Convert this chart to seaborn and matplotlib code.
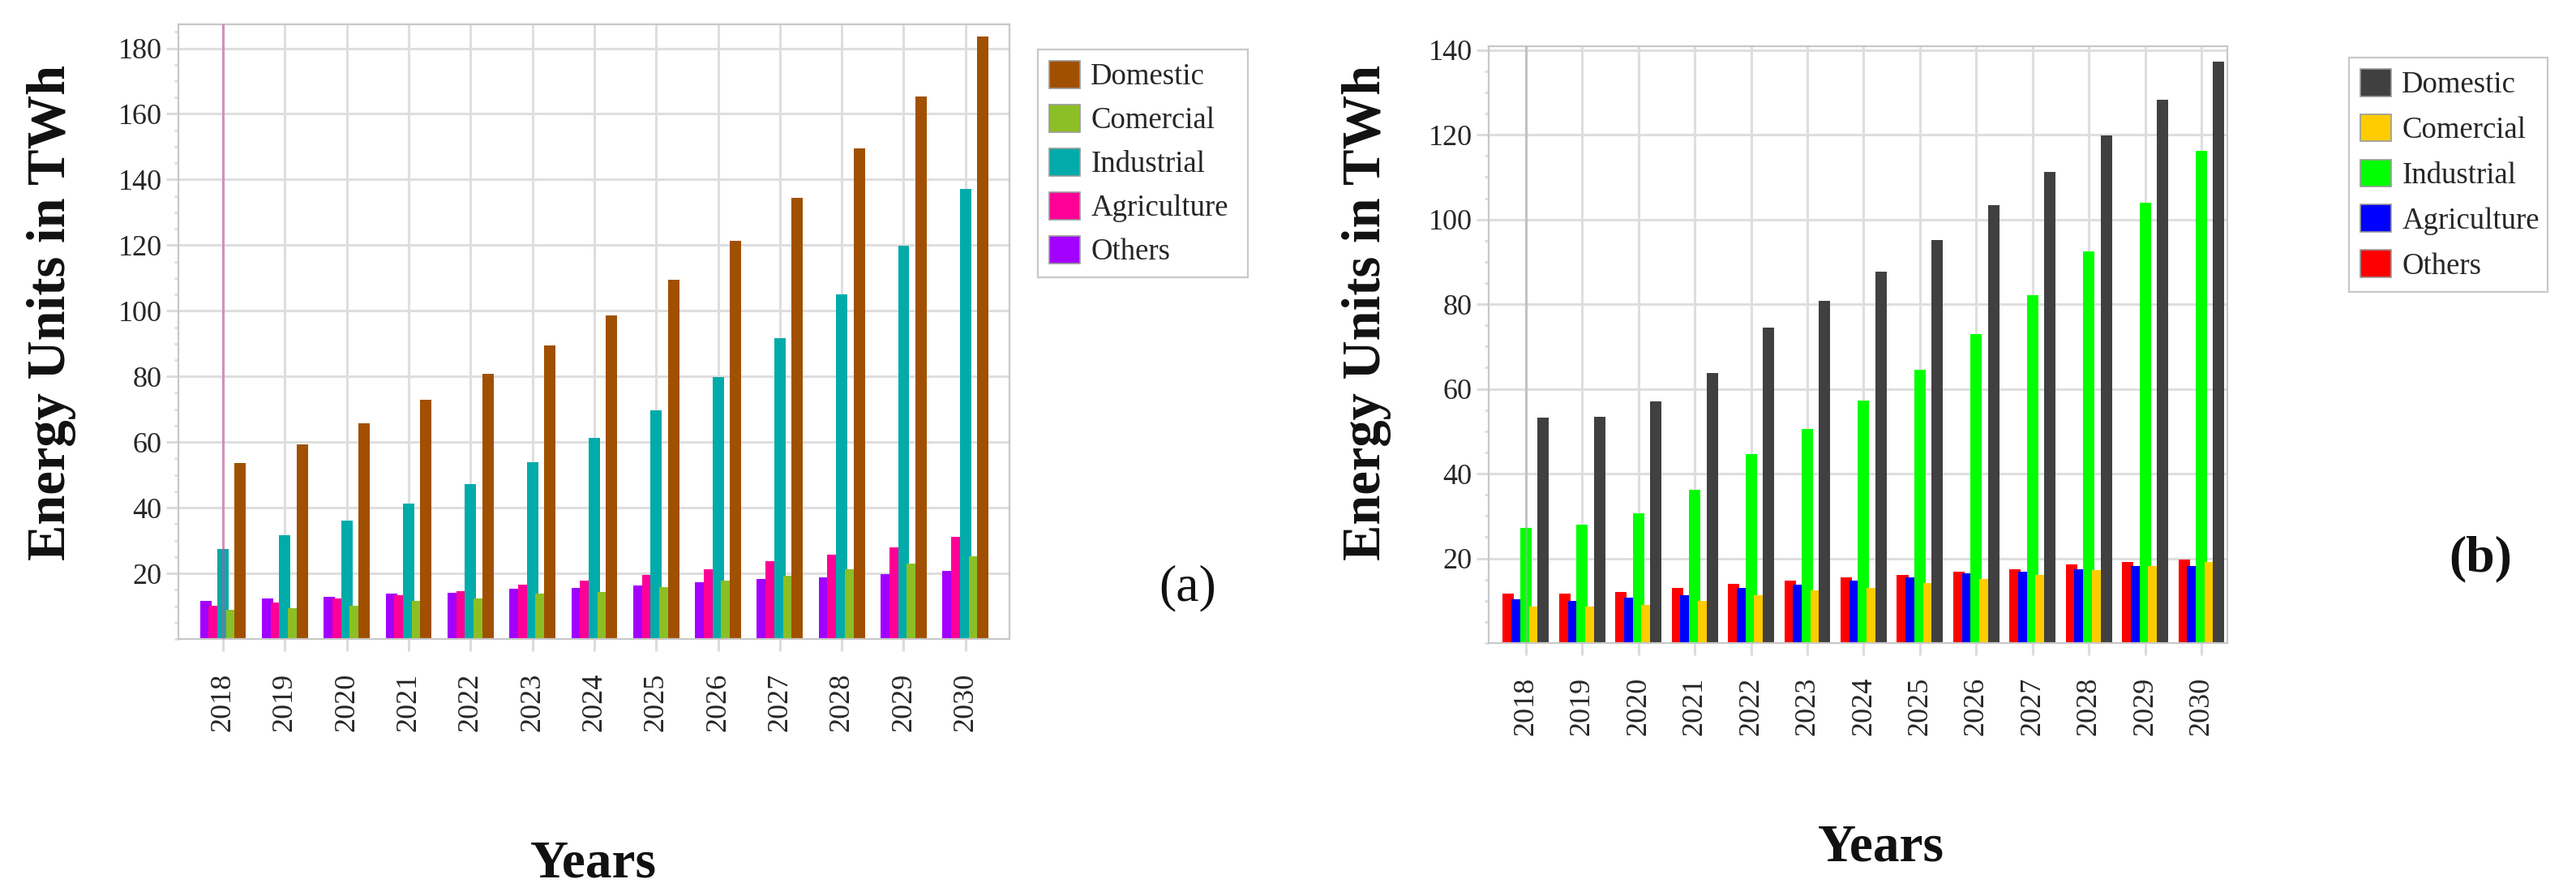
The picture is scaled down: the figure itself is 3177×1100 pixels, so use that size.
import numpy as np
import pandas as pd
import matplotlib
matplotlib.use("Agg")
import matplotlib.pyplot as plt
from matplotlib.patches import Patch
from matplotlib.ticker import MultipleLocator
import seaborn as sns

# =========================================================
# DATA (TWh)
# =========================================================

years = [str(y) for y in range(2018, 2031)]
sectors = ["Others", "Agriculture", "Industrial", "Comercial", "Domestic"]
legend_order = ["Domestic", "Comercial", "Industrial", "Agriculture", "Others"]

# panel (a)
a_others = [11.6, 12.4, 12.9, 13.8, 14.2, 15.2, 15.6, 16.3, 17.2, 18.2, 18.9, 19.8, 20.8]
a_agriculture = [10.2, 11.1, 12.4, 13.4, 14.7, 16.5, 17.9, 19.4, 21.2, 23.6, 25.8, 28.0, 31.2]
a_industrial = [27.4, 31.6, 36.1, 41.2, 47.1, 53.9, 61.2, 69.8, 79.9, 91.7, 104.9, 119.8, 137.1]
a_comercial = [8.8, 9.3, 10.2, 11.5, 12.4, 13.8, 14.3, 15.8, 17.7, 19.3, 21.2, 23.1, 25.3]
a_domestic = [53.5, 59.3, 65.7, 73.0, 80.8, 89.4, 98.6, 109.5, 121.3, 134.5, 149.4, 165.4, 183.6]

# panel (b)
b_others = [11.6, 11.6, 12.0, 13.1, 14.0, 14.8, 15.5, 16.1, 16.8, 17.5, 18.5, 19.2, 19.8]
b_agriculture = [10.3, 10.0, 10.7, 11.3, 13.1, 13.7, 14.8, 15.5, 16.4, 16.8, 17.5, 18.1, 18.1]
b_industrial = [27.2, 27.9, 30.7, 36.2, 44.7, 50.5, 57.3, 64.5, 73.0, 82.2, 92.4, 104.0, 116.2]
b_comercial = [8.6, 8.6, 9.0, 10.0, 11.3, 12.4, 13.1, 14.1, 15.1, 16.1, 17.2, 18.1, 19.1]
b_domestic = [53.2, 53.5, 57.0, 63.8, 74.4, 80.8, 87.6, 95.2, 103.4, 111.2, 119.8, 128.2, 137.3]

a_colors = {"Others": "#A200FF", "Agriculture": "#FF0097", "Industrial": "#00ABA9",
            "Comercial": "#8CBF26", "Domestic": "#A05000"}
b_colors = {"Others": "#FF0000", "Agriculture": "#0000FF", "Industrial": "#00FF00",
            "Comercial": "#FFCC00", "Domestic": "#404040"}

W, H = 3177, 1100
SERIF = ["Liberation Serif", "DejaVu Serif"]


def long_table(others, agri, ind, com, dom):
    cols = {"Others": others, "Agriculture": agri, "Industrial": ind,
            "Comercial": com, "Domestic": dom}
    rows = []
    for s in sectors:
        for y, v in zip(years, cols[s]):
            rows.append({"Year": y, "Sector": s, "TWh": v})
    return pd.DataFrame(rows)


df_a = long_table(a_others, a_agriculture, a_industrial, a_comercial, a_domestic)
df_b = long_table(b_others, b_agriculture, b_industrial, b_comercial, b_domestic)

# =========================================================
# STYLE
# =========================================================

sns.set_style("white")
plt.rcParams["font.family"] = SERIF

fig = plt.figure(figsize=(W / 100, H / 100), dpi=100)

ax_a = fig.add_axes([220 / W, 1 - 788 / H, 1025 / W, 758 / H])
ax_b = fig.add_axes([1836 / W, 1 - 793 / H, 911 / W, 736 / H])


def draw_panel(ax, df, palette, ymax, xlim, step, bar_w, cross_color, cross_alpha):
    sns.barplot(data=df, x="Year", y="TWh", hue="Sector", order=years,
                hue_order=sectors, palette=palette, width=5 * step, saturation=1,
                errorbar=None, legend=False, ax=ax)

    # bars overlap slightly in the reference
    for i, p in enumerate(ax.patches):
        w = p.get_width()
        p.set_x(p.get_x() - (bar_w - w) / 2)
        p.set_width(bar_w)
        p.set_linewidth(0)
        p.set_zorder(2 + i // len(years) * 0.01)

    ax.set_xlim(*xlim)
    ax.set_ylim(0, ymax)
    ax.set_yticks(range(20, int(ymax) + 1, 20))
    ax.yaxis.set_minor_locator(MultipleLocator(5))

    ax.set_axisbelow(True)
    ax.grid(True, which="major", color="#DEDEDE", lw=2.2)
    ax.axvline(0, color=cross_color, lw=2.2, alpha=cross_alpha, zorder=5)

    ax.set_xlabel("")
    ax.set_ylabel("")

    ax.tick_params(which="both", bottom=True, left=True)
    ax.tick_params(axis="x", labelrotation=90, labelsize=26, length=11,
                   width=2.2, color="#DCDCDC", pad=19)
    ax.tick_params(axis="y", which="major", labelsize=26, length=11,
                   width=2.2, color="#DCDCDC", pad=3.5)
    ax.tick_params(axis="y", which="minor", length=3.5, width=2.2,
                   color="#E0E0E0")
    for lbl in ax.get_xticklabels() + ax.get_yticklabels():
        lbl.set_fontfamily(SERIF)

    for sp in ax.spines.values():
        sp.set_visible(True)
        sp.set_color("#C8C8C8")
        sp.set_linewidth(1.6)


draw_panel(ax_a, df_a, a_colors, 187.3, (-0.72, 12.71), 0.140, 0.183, "#C9509F", 0.55)
draw_panel(ax_b, df_b, b_colors, 140.9, (-0.66, 12.46), 0.154, 0.202, "#A8A8A8", 0.5)

# =========================================================
# LEGENDS
# =========================================================


def add_legend(palette, x0, y0, width, spacing):
    handles = [Patch(facecolor=palette[s], edgecolor="#9A9A9A", lw=1.2)
               for s in legend_order]
    leg = fig.legend(handles, legend_order, loc="upper left", mode="expand",
                     bbox_to_anchor=(x0 / W, 1 - (y0 + 300) / H, width / W, 300 / H),
                     bbox_transform=fig.transFigure,
                     prop={"family": SERIF, "size": 26.5},
                     handlelength=1.03, handleheight=1.03, labelspacing=spacing,
                     handletextpad=0.36, borderpad=0.38, borderaxespad=0,
                     fancybox=False, frameon=True)
    leg.get_frame().set_edgecolor("#C8C8C8")
    leg.get_frame().set_linewidth(1.6)
    leg.get_frame().set_alpha(1)


add_legend(a_colors, 1280, 61, 259, 0.45)
add_legend(b_colors, 2897, 71, 245, 0.5)

# =========================================================
# LABELS
# =========================================================

label_kw = dict(fontweight="bold", color="#111111", family=SERIF)

fig.text(64 / W, 1 - 385 / H, "Energy Units in TWh", rotation=90,
         ha="center", va="center", fontsize=48, **label_kw)
fig.text(1685 / W, 1 - 385 / H, "Energy Units in TWh", rotation=90,
         ha="center", va="center", fontsize=48, **label_kw)

fig.text(732 / W, 1 - 1082 / H, "Years", ha="center", va="baseline",
         fontsize=47, **label_kw)
fig.text(2320 / W, 1 - 1062 / H, "Years", ha="center", va="baseline",
         fontsize=47, **label_kw)

fig.text(1465 / W, 1 - 725 / H, "(a)", ha="center", va="center",
         fontsize=46, color="#111111", family=SERIF)
fig.text(3059 / W, 1 - 689 / H, "(b)", ha="center", va="center",
         fontsize=46, **label_kw)

fig.savefig("out.png", dpi=100)
